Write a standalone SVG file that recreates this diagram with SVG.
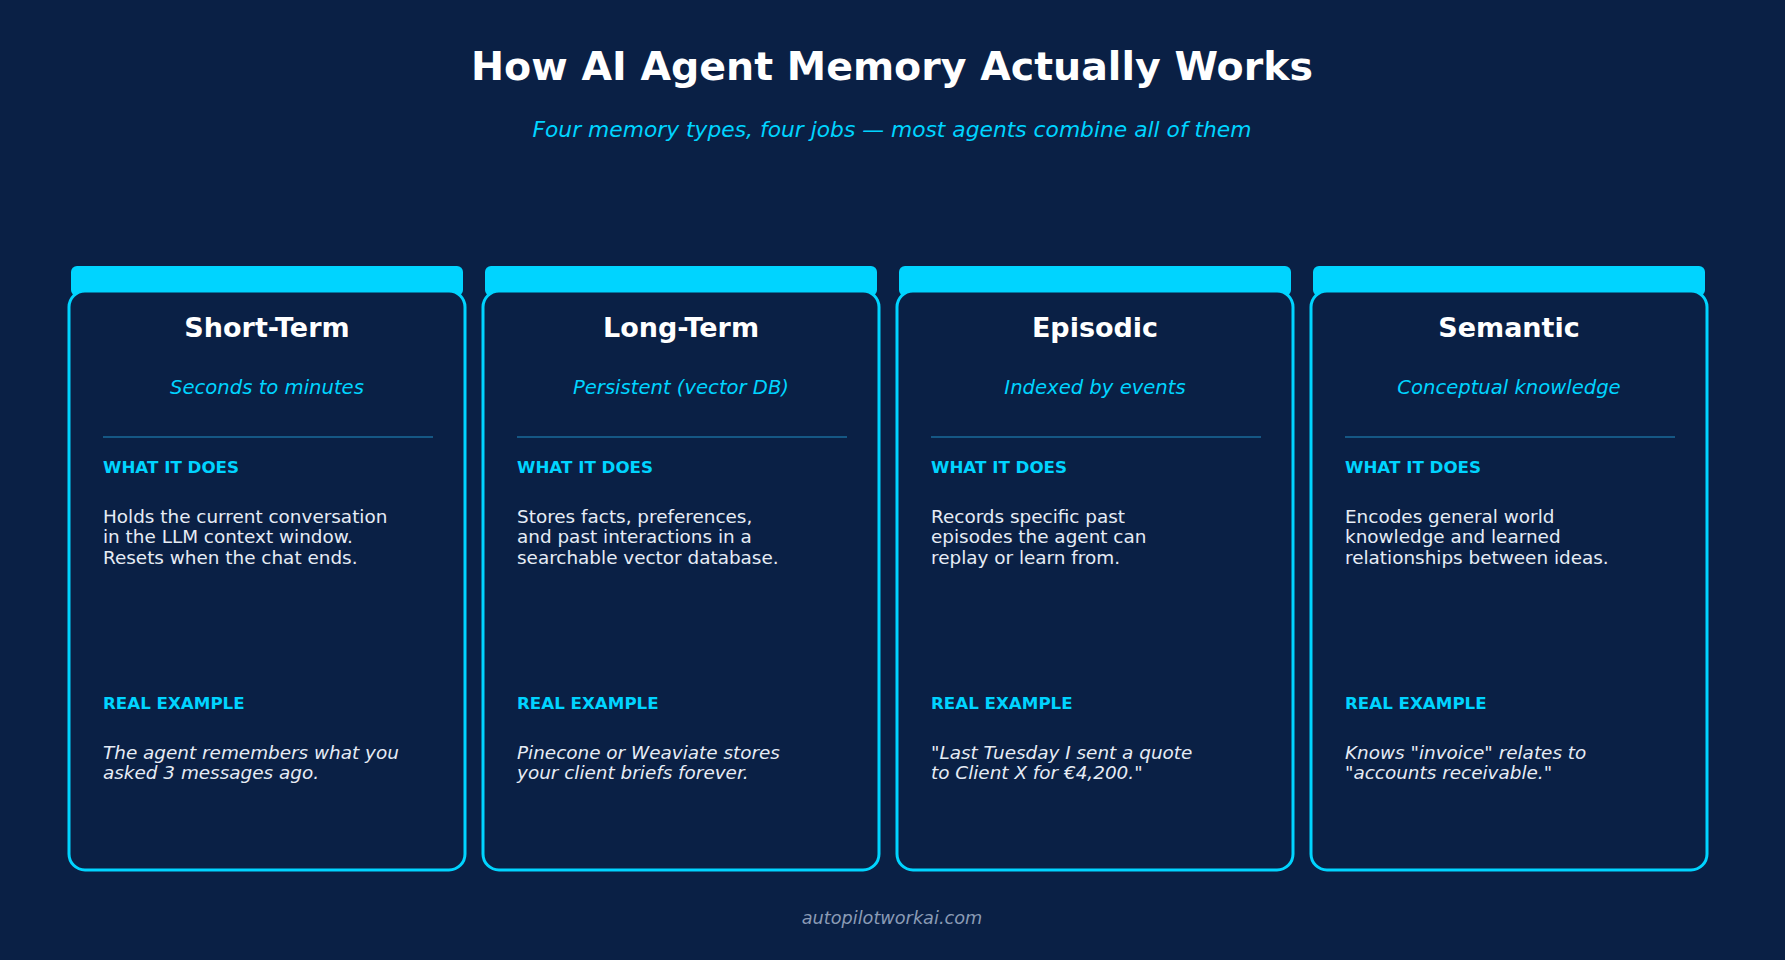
<svg xmlns="http://www.w3.org/2000/svg" width="1785" height="960" viewBox="0 0 1785 960">
<style>
text{font-family:"DejaVu Sans","Liberation Sans",sans-serif}
.bar{fill:#00d4ff}
.card{fill:#0a2045;stroke:#00d4ff;stroke-width:3}
.t{font-size:27px;font-weight:bold;fill:#fff;text-anchor:middle}
.s{font-size:19.6px;font-style:italic;fill:#00d4ff;text-anchor:middle}
.div{stroke:#1a6a9a;stroke-width:1.5}
.h{font-size:16.7px;font-weight:bold;fill:#00d4ff}
.b{font-size:18.4px;fill:#e6ecf5}
.e{font-size:18.4px;font-style:italic;fill:#e6ecf5}
</style>
<rect width="1785" height="960" fill="#0a2045"/>
<text x="892" y="80" style="font-size:39.5px;font-weight:bold;fill:#fff;text-anchor:middle">How AI Agent Memory Actually Works</text>
<text x="892" y="137" style="font-size:21.8px;font-style:italic;fill:#00d4ff;text-anchor:middle">Four memory types, four jobs — most agents combine all of them</text>
<g id="card-short-term">
<rect class="bar" x="71" y="266" width="392" height="30" rx="6"/>
<rect class="card" x="69" y="291" width="396" height="579" rx="16"/>
<text class="t" x="267" y="337">Short-Term</text>
<text class="s" x="267" y="394">Seconds to minutes</text>
<line class="div" x1="103" y1="437" x2="433" y2="437"/>
<text class="h" x="103" y="473">WHAT IT DOES</text>
<text class="b" x="103" y="523">Holds the current conversation</text>
<text class="b" x="103" y="543">in the LLM context window.</text>
<text class="b" x="103" y="564">Resets when the chat ends.</text>
<text class="h" x="103" y="709">REAL EXAMPLE</text>
<text class="e" x="103" y="759">The agent remembers what you</text>
<text class="e" x="103" y="779">asked 3 messages ago.</text>
</g>
<g id="card-long-term">
<rect class="bar" x="485" y="266" width="392" height="30" rx="6"/>
<rect class="card" x="483" y="291" width="396" height="579" rx="16"/>
<text class="t" x="681" y="337">Long-Term</text>
<text class="s" x="681" y="394">Persistent (vector DB)</text>
<line class="div" x1="517" y1="437" x2="847" y2="437"/>
<text class="h" x="517" y="473">WHAT IT DOES</text>
<text class="b" x="517" y="523">Stores facts, preferences,</text>
<text class="b" x="517" y="543">and past interactions in a</text>
<text class="b" x="517" y="564">searchable vector database.</text>
<text class="h" x="517" y="709">REAL EXAMPLE</text>
<text class="e" x="517" y="759">Pinecone or Weaviate stores</text>
<text class="e" x="517" y="779">your client briefs forever.</text>
</g>
<g id="card-episodic">
<rect class="bar" x="899" y="266" width="392" height="30" rx="6"/>
<rect class="card" x="897" y="291" width="396" height="579" rx="16"/>
<text class="t" x="1095" y="337">Episodic</text>
<text class="s" x="1095" y="394">Indexed by events</text>
<line class="div" x1="931" y1="437" x2="1261" y2="437"/>
<text class="h" x="931" y="473">WHAT IT DOES</text>
<text class="b" x="931" y="523">Records specific past</text>
<text class="b" x="931" y="543">episodes the agent can</text>
<text class="b" x="931" y="564">replay or learn from.</text>
<text class="h" x="931" y="709">REAL EXAMPLE</text>
<text class="e" x="931" y="759">"Last Tuesday I sent a quote</text>
<text class="e" x="931" y="779">to Client X for €4,200."</text>
</g>
<g id="card-semantic">
<rect class="bar" x="1313" y="266" width="392" height="30" rx="6"/>
<rect class="card" x="1311" y="291" width="396" height="579" rx="16"/>
<text class="t" x="1509" y="337">Semantic</text>
<text class="s" x="1509" y="394">Conceptual knowledge</text>
<line class="div" x1="1345" y1="437" x2="1675" y2="437"/>
<text class="h" x="1345" y="473">WHAT IT DOES</text>
<text class="b" x="1345" y="523">Encodes general world</text>
<text class="b" x="1345" y="543">knowledge and learned</text>
<text class="b" x="1345" y="564">relationships between ideas.</text>
<text class="h" x="1345" y="709">REAL EXAMPLE</text>
<text class="e" x="1345" y="759">Knows "invoice" relates to</text>
<text class="e" x="1345" y="779">"accounts receivable."</text>
</g>
<g id="connectors"/>
<text x="892" y="924" style="font-size:17.7px;font-style:italic;fill:#8a9bb5;text-anchor:middle">autopilotworkai.com</text>
</svg>
